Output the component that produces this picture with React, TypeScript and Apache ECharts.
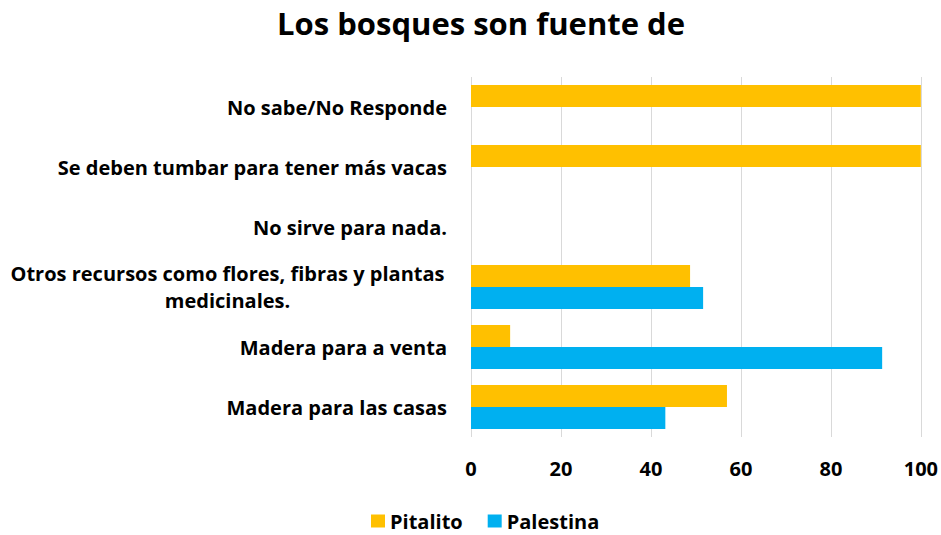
import React, { useEffect, useRef } from "react";
import * as echarts from "echarts";

const categories = [
  "Madera para las casas",
  "Madera para a venta",
  "Otros recursos como flores, fibras y plantas\nmedicinales.",
  "No sirve para nada.",
  "Se deben tumbar para tener más vacas",
  "No sabe/No Responde",
];
const pitalito = [56.9, 8.7, 48.7, 0, 100, 100];
const palestina = [43.2, 91.4, 51.6, 0, 0, 0];
const xTicks = [0, 20, 40, 60, 80, 100];

const FONT = "Open Sans";

export default function App() {
  const ref = useRef<HTMLDivElement>(null);
  useEffect(() => {
    document.body.style.margin = "0";
    if (!ref.current) return;
    const chart = echarts.init(ref.current, undefined, { renderer: "svg" });
    chart.setOption({
      animation: false,
      title: {
        text: "Los bosques son fuente de",
        left: 272,
        top: 2,
        textStyle: { fontFamily: FONT, fontWeight: "bold", fontSize: 31, color: "#000" },
      },
      legend: {
        data: ["Pitalito", "Palestina"],
        top: 511,
        left: 371,
        padding: 0,
        itemWidth: 14,
        itemHeight: 13,
        itemGap: 25,
        icon: "rect",
        textStyle: { fontFamily: FONT, fontWeight: "bold", fontSize: 20, color: "#000" },
      },
      grid: { left: 471, right: 20, top: 77, height: 360, containLabel: false },
      xAxis: {
        type: "value",
        min: xTicks[0],
        max: xTicks[xTicks.length - 1],
        interval: 20,
        axisLine: { show: false },
        axisTick: { show: false },
        splitLine: { lineStyle: { color: "#d9d9d9", width: 1 } },
        axisLabel: { fontFamily: FONT, fontWeight: "bold", fontSize: 20, color: "#000", margin: 21 },
      },
      yAxis: {
        type: "category",
        data: categories,
        axisLine: { show: false },
        axisTick: { show: false },
        axisLabel: {
          margin: 24,
          fontFamily: FONT,
          fontWeight: "bold",
          fontSize: 20,
          color: "#000",
          lineHeight: 27,
          formatter: (v: string) =>
            v.indexOf("\n") >= 0
              ? v.split("\n").map((s) => "{c|" + s + "}").join("\n")
              : v,
          rich: {
            c: {
              width: 439,
              align: "center",
              fontFamily: FONT,
              fontWeight: "bold",
              fontSize: 20,
              color: "#000",
              lineHeight: 27,
            },
          },
        },
      },
      series: [
        {
          name: "Pitalito",
          type: "bar",
          data: pitalito,
          barWidth: 22,
          barGap: "0%",
          itemStyle: { color: "#FFC000" },
        },
        {
          name: "Palestina",
          type: "bar",
          data: palestina,
          barWidth: 22,
          barGap: "0%",
          itemStyle: { color: "#00B0F0" },
        },
      ],
    });
    return () => chart.dispose();
  }, []);
  return <div ref={ref} style={{ width: 941, height: 535 }} />;
}
